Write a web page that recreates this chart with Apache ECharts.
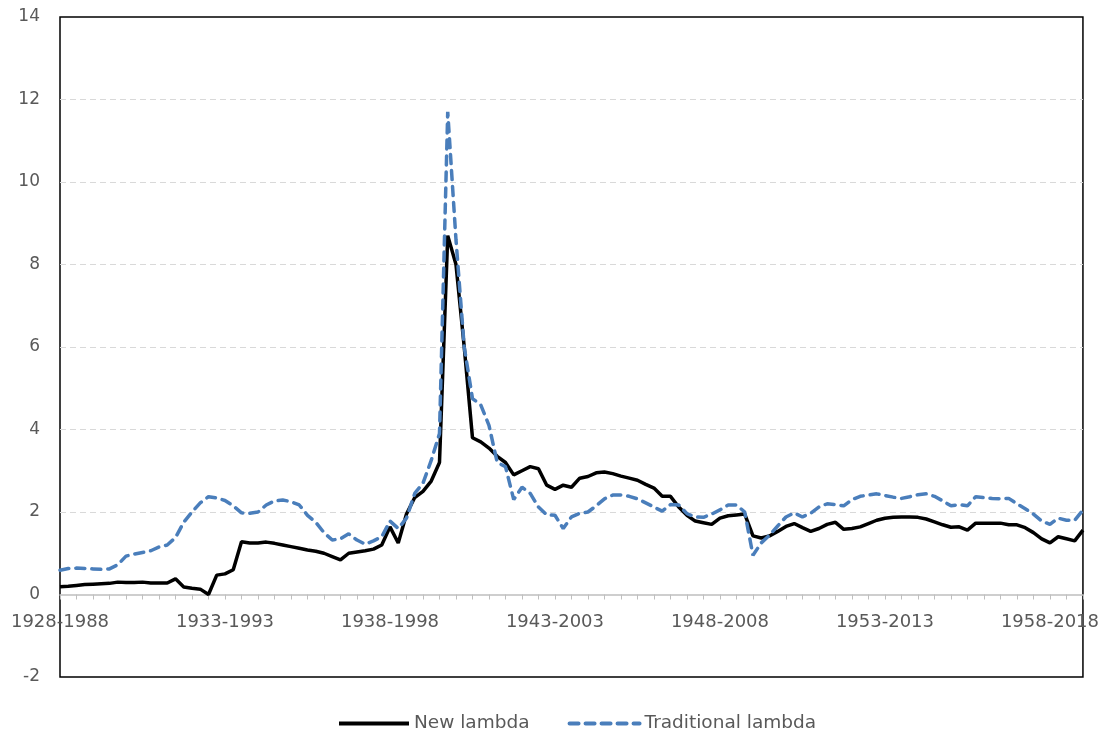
<!DOCTYPE html>
<html>
<head>
<meta charset="utf-8">
<title>New vs traditional lambda</title>
<script src="https://cdn.jsdelivr.net/npm/echarts@6/dist/echarts.min.js"></script>
<style>
  html, body { margin: 0; padding: 0; background: #fff; }
  #chart { width: 1102px; height: 733px; }
</style>
</head>
<body>
<div id="chart"></div>
<script>
// rolling 60-year windows, one point per quarter, 1928-1988 .. 1959-2019
const startYear = 1928
const windowLen = 60

const newLambda = [
  0.19, 0.20, 0.22, 0.24, 0.25, 0.26, 0.27, 0.30, 0.29, 0.29,
  0.30, 0.28, 0.28, 0.28, 0.38, 0.18, 0.15, 0.13, 0.00, 0.47,
  0.50, 0.60, 1.28, 1.25, 1.25, 1.27, 1.24, 1.20, 1.16, 1.12,
  1.08, 1.05, 1.00, 0.92, 0.84, 1.00, 1.03, 1.06, 1.10, 1.20,
  1.64, 1.25, 1.95, 2.35, 2.50, 2.75, 3.20, 8.70, 8.00, 6.00,
  3.80, 3.70, 3.55, 3.35, 3.20, 2.90, 3.00, 3.10, 3.05, 2.65,
  2.55, 2.65, 2.60, 2.82, 2.86, 2.95, 2.97, 2.93, 2.87, 2.82,
  2.77, 2.67, 2.58, 2.38, 2.38, 2.12, 1.92, 1.78, 1.74, 1.70,
  1.85, 1.91, 1.93, 1.95, 1.42, 1.37, 1.42, 1.53, 1.65, 1.72,
  1.62, 1.53, 1.60, 1.70, 1.75, 1.58, 1.60, 1.64, 1.72, 1.80,
  1.85, 1.87, 1.88, 1.88, 1.87, 1.83, 1.76, 1.69, 1.63, 1.64,
  1.56, 1.73, 1.73, 1.73, 1.73, 1.69, 1.69, 1.62, 1.50, 1.35,
  1.25, 1.40, 1.35, 1.30, 1.56
]

const traditionalLambda = [
  0.59, 0.63, 0.64, 0.63, 0.62, 0.61, 0.62, 0.72, 0.93, 0.98,
  1.02, 1.06, 1.15, 1.20, 1.38, 1.75, 2.00, 2.22, 2.37, 2.34,
  2.28, 2.15, 1.98, 1.97, 2.00, 2.17, 2.27, 2.29, 2.25, 2.17,
  1.92, 1.75, 1.50, 1.32, 1.35, 1.47, 1.32, 1.22, 1.30, 1.40,
  1.78, 1.60, 1.85, 2.45, 2.70, 3.25, 3.90, 11.70, 8.60, 6.00,
  4.75, 4.60, 4.10, 3.20, 3.10, 2.30, 2.60, 2.45, 2.12, 1.93,
  1.92, 1.60, 1.88, 1.97, 2.00, 2.15, 2.32, 2.41, 2.41, 2.38,
  2.32, 2.22, 2.12, 2.02, 2.18, 2.17, 1.96, 1.88, 1.87, 1.95,
  2.05, 2.17, 2.17, 2.00, 0.95, 1.25, 1.44, 1.66, 1.88, 1.98,
  1.88, 1.97, 2.12, 2.20, 2.18, 2.15, 2.30, 2.38, 2.41, 2.44,
  2.40, 2.36, 2.33, 2.37, 2.42, 2.44, 2.38, 2.27, 2.15, 2.18,
  2.15, 2.37, 2.35, 2.33, 2.32, 2.33, 2.20, 2.08, 1.95, 1.78,
  1.70, 1.85, 1.80, 1.80, 2.05
]

const categories = []
for (let i = 0; i < newLambda.length; i++) {
  const y = startYear + Math.floor(i / 4)
  categories.push(y + '-' + (y + windowLen) + ' Q' + (i % 4 + 1))
}

const yTicks = { min: -2, max: 14, step: 2 }

const font = '"DejaVu Sans", Verdana, sans-serif'
const textGrey = '#595959'
const gridGrey = '#d9d9d9'

let chart = echarts.init(document.getElementById('chart'))
chart.setOption({
  animation: false,
  grid: {
    left: 60,
    right: 18,
    top: 17,
    bottom: 56,
    show: true,
    borderColor: '#000',
    borderWidth: 1.5
  },
  legend: {
    left: 332,
    top: 709,
    itemWidth: 70,
    itemHeight: 14,
    itemGap: 38,
    itemStyle: { opacity: 0 },
    lineStyle: { width: 4 },
    textStyle: { color: textGrey, fontSize: 18.5, fontFamily: font },
    data: ['New lambda', 'Traditional lambda']
  },
  xAxis: {
    type: 'category',
    data: categories,
    boundaryGap: false,
    // axis sits on y = 0: 2 units (82.5px) above the bottom edge
    offset: -82.5,
    axisLine: { onZero: false, lineStyle: { color: '#bfbfbf', width: 1.5 } },
    axisTick: {
      show: true,
      length: 5,
      interval: function (i) { return i % 2 === 0 },
      lineStyle: { color: '#bfbfbf' }
    },
    axisLabel: {
      interval: function (i) { return i % 20 === 0 },
      formatter: function (v) { return v.split(' ')[0] },
      color: textGrey,
      fontSize: 18,
      fontFamily: font,
      margin: 19
    },
    splitLine: { show: false }
  },
  yAxis: {
    type: 'value',
    min: yTicks.min,
    max: yTicks.max,
    interval: yTicks.step,
    axisLine: { show: false },
    axisTick: { show: false },
    axisLabel: { color: textGrey, fontSize: 17, fontFamily: font, margin: 20 },
    splitLine: {
      lineStyle: {
        // no dashed line on -2, 0 and 14 (border / axis there)
        color: ['rgba(0,0,0,0)', 'rgba(0,0,0,0)', gridGrey, gridGrey, gridGrey,
                gridGrey, gridGrey, gridGrey, 'rgba(0,0,0,0)'],
        width: 1,
        type: [6, 4]
      }
    }
  },
  series: [
    {
      name: 'New lambda',
      type: 'line',
      data: newLambda,
      symbol: 'none',
      color: '#000',
      lineStyle: { color: '#000', width: 3.5 }
    },
    {
      name: 'Traditional lambda',
      type: 'line',
      data: traditionalLambda,
      symbol: 'none',
      color: '#4a7ebb',
      lineStyle: { color: '#4a7ebb', width: 3.5, type: [9, 7], cap: 'round' }
    }
  ]
})
window.addEventListener('resize', function () {
  chart.resize()
})
</script>
</body>
</html>
